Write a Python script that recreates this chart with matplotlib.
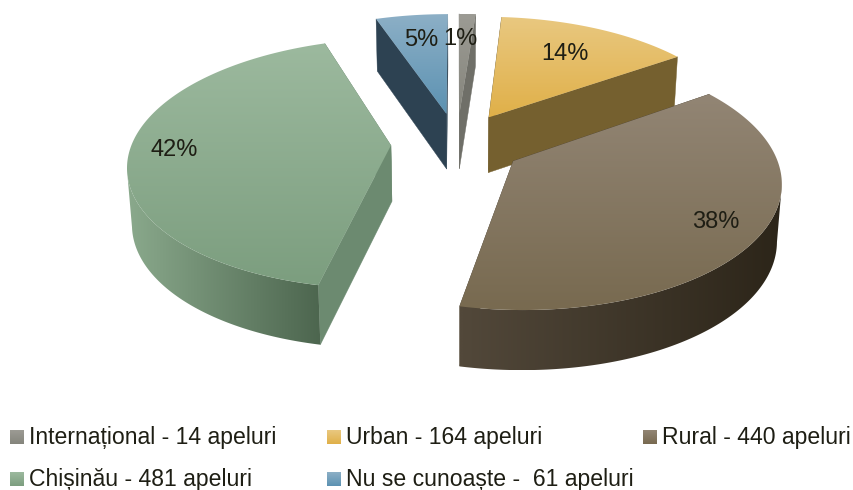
import numpy as np
import matplotlib
matplotlib.use("Agg")
import matplotlib.pyplot as plt
from matplotlib.patches import Polygon
from matplotlib.colors import to_rgb

# --- data
categories = ["Internațional - 14 apeluri", "Urban - 164 apeluri", "Rural - 440 apeluri",
              "Chișinău - 481 apeluri", "Nu se cunoaște -  61 apeluri"]
values = [14, 164, 440, 481, 61]
pct_labels = ["1%", "14%", "38%", "42%", "5%"]

# --- styles
top_colors = [("#9c9b94", "#85857c"), ("#e9c880", "#e0b049"), ("#928574", "#786a50"),
              ("#9cb99e", "#7c9e7f"), ("#8cafc6", "#5c92b2")]
cut_colors = ["#6f6f68", "#75602f", "#4e4433", "#6c8a70", "#2d4252"]
wall_colors = [("#77776f", "#66665f"), ("#806a36", "#75602f"), ("#52483a", "#2c2519"),
               ("#8aa98c", "#4d664f"), ("#3a4f5f", "#2d4252")]
label_pos = [(460, 39), (565, 54), (716, 222), (174, 150), (421, 40)]
legend_pos = [(10, 437), (327, 437), (643, 437), (10, 479), (327, 479)]

# projection parameters (pixels)
CX, CY = 457, 143.5
S, T = 259, 122
K = 0.144
K_H = 0.06
D = 0.255     # explosion distance
H = 56
FONT = "Liberation Sans"


def project(u, v, bottom=False):
    v = np.asarray(v)
    w = 1 + K * v
    x = S * np.asarray(u) / w
    y = -T * v / w
    if bottom:
        return CX + x * 0.985, CY + y + H / (1 + K_H * v)
    return CX + x, CY + y


def gradient(ax, poly, c0, c1, zorder, horizontal=False):
    (x0, y0), (x1, y1) = poly.min(axis=0), poly.max(axis=0)
    t = np.linspace(0, 1, 64)[:, None]
    img = ((1 - t) * np.array(to_rgb(c0)) + t * np.array(to_rgb(c1)))[:, None, :]
    if horizontal:
        img = img.transpose(1, 0, 2)
    im = ax.imshow(img, extent=(x0, x1, y1, y0), aspect="auto",
                   interpolation="bilinear", zorder=zorder)
    im.set_clip_path(Polygon(poly, closed=True, transform=ax.transData))


fig = plt.figure(figsize=(8.54, 4.9), dpi=100)
ax = fig.add_axes([0, 0, 1, 1])
ax.axis("off")

total = sum(values)
ends = np.cumsum(values) / total * 2 * np.pi
starts = np.r_[0, ends[:-1]]
order = [0, 4, 1, 3, 2]  # painter's order, back to front

z = 1.0
for i in order:
    a0, a1 = starts[i], ends[i]
    mid = (a0 + a1) / 2
    ou, ov = D * np.sin(mid), D * np.cos(mid)
    ang = np.linspace(a0, a1, 200)
    u = ou + np.sin(ang)
    v = ov + np.cos(ang)
    tx, ty = project(u, v)
    bx, by = project(u, v, bottom=True)
    ax0, ay0 = project(ou, ov)
    bx0, by0 = project(ou, ov, bottom=True)
    # cut faces
    for j in (0, -1):
        ax.add_patch(Polygon([(ax0, ay0), (tx[j], ty[j]), (bx[j], by[j]), (bx0, by0)],
                             fc=cut_colors[i], ec=cut_colors[i], lw=0.3, zorder=z))
    z += 1
    # visible outer wall: the stretch of rim running right-to-left
    d = np.diff(tx) < 0
    front = np.r_[d, d[-1]]
    if front.sum() > 2:
        wall = np.r_[np.column_stack([tx[front], ty[front]]),
                     np.column_stack([bx[front], by[front]])[::-1]]
        gradient(ax, wall, wall_colors[i][0], wall_colors[i][1], z, horizontal=True)
    z += 1
    # top face
    poly = np.column_stack([np.r_[ax0, tx], np.r_[ay0, ty]])
    gradient(ax, poly, top_colors[i][0], top_colors[i][1], z)
    z += 1

for lab, (x, y) in zip(pct_labels, label_pos):
    ax.text(x, y, lab, ha="center", va="center", fontsize=17, color="#1e1e14",
            family=FONT, zorder=z)

for i, (name, (x, y)) in enumerate(zip(categories, legend_pos)):
    sw = np.array([(x, y - 7), (x + 14, y - 7), (x + 14, y + 7), (x, y + 7)], float)
    gradient(ax, sw, top_colors[i][0], top_colors[i][1], z)
    ax.text(x + 19, y, name, ha="left", va="center", fontsize=16.6, color="#1e1e14",
            family=FONT, zorder=z)

ax.set_xlim(0, 854)
ax.set_ylim(490, 0)
fig.savefig("out.png", dpi=100, facecolor="white")
